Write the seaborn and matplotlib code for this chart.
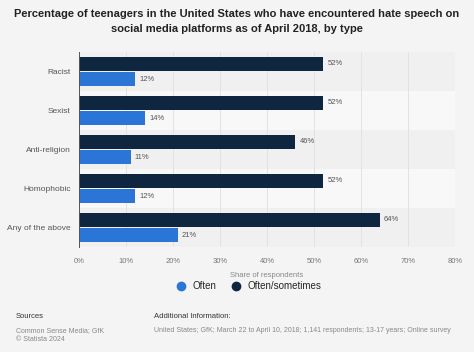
import matplotlib
matplotlib.use("Agg")
import matplotlib.pyplot as plt
import seaborn as sns
import pandas as pd
from matplotlib.lines import Line2D

types = ["Racist", "Sexist", "Anti-religion", "Homophobic", "Any of the above"]
often = [12, 14, 11, 12, 21]
often_sometimes = [52, 52, 46, 52, 64]
x_ticks = [0, 10, 20, 30, 40, 50, 60, 70, 80]

BG = "#f4f4f4"
DARK = "#0f2640"
BLUE = "#2b75d6"

df = pd.DataFrame({
    "type": types * 2,
    "value": often_sometimes + often,
    "series": ["Often/sometimes"] * len(types) + ["Often"] * len(types),
})

sns.set_style("white")
plt.rcParams["font.family"] = ["Liberation Sans", "DejaVu Sans"]

fig = plt.figure(figsize=(4.74, 3.52), dpi=100, facecolor=BG)
ax = fig.add_axes([0.1667, 0.298, 0.7933, 0.554])
ax.set_facecolor(BG)

# alternating row bands
for i in range(len(types)):
    ax.axhspan(i - 0.5, i + 0.5, color="#f0f0f0" if i % 2 == 0 else "#f8f8f8", zorder=0, lw=0)

sns.barplot(data=df, y="type", x="value", hue="series", order=types,
            hue_order=["Often/sometimes", "Often"],
            palette={"Often/sometimes": DARK, "Often": BLUE},
            orient="h", width=0.8, gap=0.1, legend=False, ax=ax, zorder=3,
            linewidth=0, saturation=1)

for cont in ax.containers:
    ax.bar_label(cont, labels=[f"{v:.0f}%" for v in cont.datavalues],
                 padding=3, fontsize=5.5, color="#555555")

ax.set_xlim(0, 80)
ax.set_ylim(len(types) - 0.5, -0.5)
ax.set_xticks(x_ticks)
ax.set_xticklabels([f"{t}%" for t in x_ticks])
ax.tick_params(axis="x", labelsize=5.5, colors="#777777", length=0, pad=8)
ax.tick_params(axis="y", labelsize=6, colors="#555555", length=0, pad=6)
ax.grid(axis="x", color="#e2e2e2", lw=0.7, zorder=1)
ax.set_axisbelow(True)
for s in ["top", "right", "bottom"]:
    ax.spines[s].set_visible(False)
ax.spines["left"].set_color("#555555")
ax.spines["left"].set_linewidth(0.7)
ax.spines["left"].set_zorder(4)
ax.set_ylabel("")
ax.set_xlabel("Share of respondents", fontsize=5.5, color="#888888", labelpad=5)

fig.suptitle("Percentage of teenagers in the United States who have encountered hate speech on\n"
             "social media platforms as of April 2018, by type",
             fontsize=8, fontweight="bold", color="#222222", y=0.975, linespacing=1.6)

handles = [Line2D([], [], marker="o", ls="", color=BLUE, markersize=6),
           Line2D([], [], marker="o", ls="", color=DARK, markersize=6)]
fig.legend(handles, ["Often", "Often/sometimes"], loc="center", bbox_to_anchor=(0.52, 0.187),
           ncol=2, frameon=False, fontsize=7, handletextpad=0.2, columnspacing=1.0)

fig.text(0.033, 0.097, "Sources", fontsize=5.5, color="#333333")
fig.text(0.033, 0.072, "Common Sense Media; GfK\n\u00a9 Statista 2024", fontsize=5, color="#888888",
         va="top", linespacing=1.5)
fig.text(0.324, 0.097, "Additional Information:", fontsize=5.5, color="#333333")
fig.text(0.324, 0.072, "United States; GfK; March 22 to April 10, 2018; 1,141 respondents; 13-17 years; Online survey",
         fontsize=5, color="#888888", va="top")

fig.savefig("out.png", dpi=100, facecolor=BG)
